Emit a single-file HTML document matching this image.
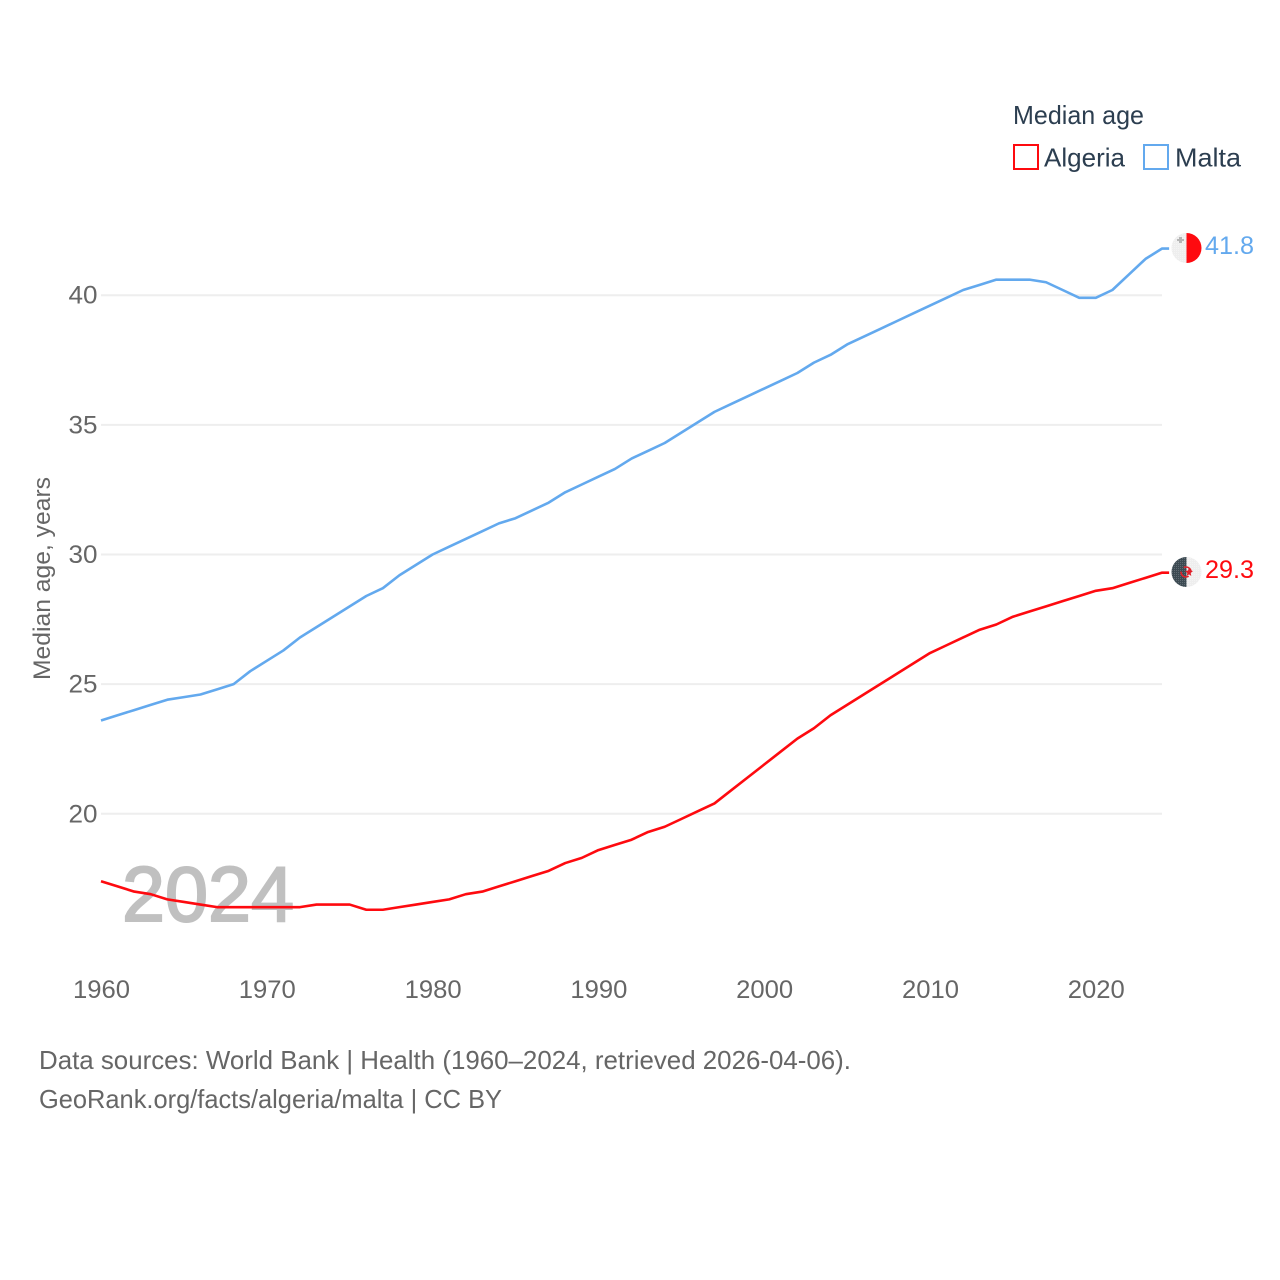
<!DOCTYPE html>
<html lang="en">
<head>
<meta charset="utf-8">
<title>Median age: Algeria and Malta</title>
<style>
html,body{margin:0;padding:0;background:#fff;width:1280px;height:1280px;overflow:hidden}
svg{display:block}
text{font-family:"Liberation Sans",sans-serif}
</style>
</head>
<body>
<svg id="chart" xmlns="http://www.w3.org/2000/svg" width="1280" height="1280" viewBox="0 0 1280 1280">
  <defs>
    <pattern id="dither-white" width="2" height="2" patternUnits="userSpaceOnUse">
      <rect width="2" height="2" fill="#eeeeee"/>
      <rect width="1" height="1" fill="#f4f4f4"/>
    </pattern>
    <pattern id="dither-dark" width="2" height="2" patternUnits="userSpaceOnUse">
      <rect width="2" height="2" fill="#3c4a52"/>
      <rect width="1" height="1" fill="#5f6a72"/>
    </pattern>
    <clipPath id="clip-malta"><circle cx="1186.5" cy="248" r="15"/></clipPath>
    <clipPath id="clip-algeria"><circle cx="1186.5" cy="572" r="15"/></clipPath>
  </defs>

  <g id="grid"></g>

  <text x="122" y="921" font-size="78" fill="#c0c0c0" stroke="#c0c0c0" stroke-width="2" textLength="172" lengthAdjust="spacingAndGlyphs">2024</text>

  <g id="y-ticks"></g>
  <g id="x-ticks"></g>

  <text transform="translate(50,680) rotate(-90)" font-size="24" fill="#666666" textLength="203" lengthAdjust="spacingAndGlyphs">Median age, years</text>

  <g id="series"></g>

  <g clip-path="url(#clip-malta)">
    <rect x="1171" y="232" width="15.5" height="32" fill="url(#dither-white)"/>
    <rect x="1186.5" y="232" width="15.5" height="32" fill="#fe0a0f"/>
    <path d="M1179 237h3v2h2v2h-2v2h-3v-2h-2v-2h2z" fill="#b5b5b5"/>
  </g>
  <g clip-path="url(#clip-algeria)">
    <rect x="1171" y="556" width="15.5" height="32" fill="url(#dither-dark)"/>
    <rect x="1186.5" y="556" width="15.5" height="32" fill="url(#dither-white)"/>
    <circle cx="1186" cy="572" r="5" fill="none" stroke="#e0202a" stroke-width="1.6" stroke-dasharray="11 5" stroke-dashoffset="-5"/>
    <path d="M1189 567.5l1 3 3 .5-2.300 2 .6 3-2.300-1.600-2.300 1.600.6-3-2.300-2 3-.5z" fill="#e0202a"/>
  </g>

  <text x="1205" y="254" font-size="25" fill="#63a9ee" textLength="49" lengthAdjust="spacingAndGlyphs">41.8</text>
  <text x="1205" y="578" font-size="25" fill="#fe0a0f" textLength="49" lengthAdjust="spacingAndGlyphs">29.3</text>

  <g>
    <text x="1013" y="124" font-size="26" fill="#2c3e50" textLength="131" lengthAdjust="spacingAndGlyphs">Median age</text>
    <rect x="1014" y="145" width="24" height="24" fill="#fff" stroke="#fe0a0f" stroke-width="2"/>
    <text x="1044" y="166.500" font-size="26" fill="#2c3e50" textLength="81" lengthAdjust="spacingAndGlyphs">Algeria</text>
    <rect x="1144" y="145" width="24" height="24" fill="#fff" stroke="#63a9ee" stroke-width="2"/>
    <text x="1175" y="166.500" font-size="26" fill="#2c3e50" textLength="66" lengthAdjust="spacingAndGlyphs">Malta</text>
  </g>

  <text x="39" y="1069" font-size="26" fill="#666666" textLength="812" lengthAdjust="spacingAndGlyphs">Data sources: World Bank | Health (1960–2024, retrieved 2026-04-06).</text>
  <text x="39" y="1108" font-size="26" fill="#666666" textLength="463" lengthAdjust="spacingAndGlyphs">GeoRank.org/facts/algeria/malta | CC BY</text>
</svg>
<script>
const years = [1960,1961,1962,1963,1964,1965,1966,1967,1968,1969,1970,1971,1972,1973,1974,1975,1976,1977,1978,1979,1980,1981,1982,1983,1984,1985,1986,1987,1988,1989,1990,1991,1992,1993,1994,1995,1996,1997,1998,1999,2000,2001,2002,2003,2004,2005,2006,2007,2008,2009,2010,2011,2012,2013,2014,2015,2016,2017,2018,2019,2020,2021,2022,2023,2024];
const algeria = [17.4,17.2,17.0,16.9,16.7,16.6,16.5,16.4,16.4,16.4,16.4,16.4,16.4,16.5,16.5,16.5,16.3,16.3,16.4,16.5,16.6,16.7,16.9,17.0,17.2,17.4,17.6,17.8,18.1,18.3,18.6,18.8,19.0,19.3,19.5,19.8,20.1,20.4,20.9,21.4,21.9,22.4,22.9,23.3,23.8,24.2,24.6,25.0,25.4,25.8,26.2,26.5,26.8,27.1,27.3,27.6,27.8,28.0,28.2,28.4,28.6,28.7,28.9,29.1,29.3];
const malta = [23.6,23.8,24.0,24.2,24.4,24.5,24.6,24.8,25.0,25.5,25.9,26.3,26.8,27.2,27.6,28.0,28.4,28.7,29.2,29.6,30.0,30.3,30.6,30.9,31.2,31.4,31.7,32.0,32.4,32.7,33.0,33.3,33.7,34.0,34.3,34.7,35.1,35.5,35.8,36.1,36.4,36.7,37.0,37.4,37.7,38.1,38.4,38.7,39.0,39.3,39.6,39.9,40.2,40.4,40.6,40.6,40.6,40.5,40.2,39.9,39.9,40.2,40.8,41.4,41.8];
const xTickLabels = [1960,1970,1980,1990,2000,2010,2020];
const yTickLabels = [20,25,30,35,40];

const NS = 'http://www.w3.org/2000/svg';
function xScale(year) { return 101 + (year - 1960) * 16.58; }
function yScale(age) { return 295.2 + (40 - age) * 25.93; }

const gridGroup = document.getElementById('grid');
const yTickGroup = document.getElementById('y-ticks');
const xTickGroup = document.getElementById('x-ticks');
const seriesGroup = document.getElementById('series');

yTickLabels.forEach(function (tick) {
  const line = document.createElementNS(NS, 'line');
  line.setAttribute('x1', 101);
  line.setAttribute('x2', 1162);
  line.setAttribute('y1', yScale(tick));
  line.setAttribute('y2', yScale(tick));
  line.setAttribute('stroke', '#eeeeee');
  line.setAttribute('stroke-width', 2);
  
  
  gridGroup.appendChild(line);

  const label = document.createElementNS(NS, 'text');
  label.setAttribute('x', 97.5);
  label.setAttribute('y', yScale(tick) + 8.5);
  label.setAttribute('text-anchor', 'end');
  label.setAttribute('font-size', 25);
  label.setAttribute('fill', '#666666');
  label.setAttribute('textLength', 29);
  label.setAttribute('lengthAdjust', 'spacingAndGlyphs');
  
  
  label.textContent = tick;
  yTickGroup.appendChild(label);
});

xTickLabels.forEach(function (tick) {
  const label = document.createElementNS(NS, 'text');
  label.setAttribute('x', xScale(tick) - 28);
  label.setAttribute('y', 998);
  label.setAttribute('font-size', 25);
  label.setAttribute('fill', '#666666');
  label.setAttribute('textLength', 57);
  label.setAttribute('lengthAdjust', 'spacingAndGlyphs');
  
  
  label.textContent = tick;
  xTickGroup.appendChild(label);
});

function drawSeries(values, color, name) {
  let d = values.map(function (v, i) {
    return (i ? 'L' : 'M') + xScale(years[i]).toFixed(2) + ' ' + yScale(v).toFixed(2);
  }).join(' ');
  d += ' h7';
  const path = document.createElementNS(NS, 'path');
  path.setAttribute('d', d);
  path.setAttribute('fill', 'none');
  path.setAttribute('stroke', color);
  path.setAttribute('stroke-width', 2.6);
  path.setAttribute('stroke-linejoin', 'round');
  
  
  seriesGroup.appendChild(path);
}
drawSeries(malta, '#63a9ee', 'malta-line');
drawSeries(algeria, '#fe0a0f', 'algeria-line');
</script>
</body>
</html>
